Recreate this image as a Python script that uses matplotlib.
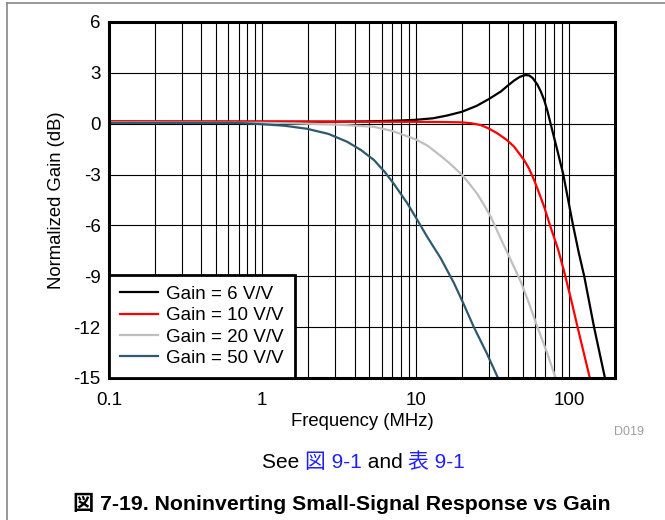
import matplotlib
matplotlib.use("Agg")
import matplotlib.pyplot as plt
from matplotlib.lines import Line2D
from matplotlib.offsetbox import TextArea, HPacker, AnchoredOffsetbox
from matplotlib.ticker import LogLocator, NullFormatter, FixedLocator, FixedFormatter

plt.rcParams['font.family'] = ['Liberation Sans', 'Noto Sans CJK JP', 'DejaVu Sans']

# ---------------- data ----------------
f_g6 = [0.1, 0.3, 1, 3, 5, 8, 10, 13, 16, 20, 25, 30, 36, 40, 44, 48, 52, 55, 58, 62.4,
        65.6, 69, 72.5, 76, 84, 92, 99, 106, 116, 126, 146, 172]
db_g6 = [0.12, 0.12, 0.12, 0.12, 0.14, 0.19, 0.23, 0.32, 0.48, 0.7, 1.05, 1.45, 1.9, 2.25,
         2.55, 2.77, 2.87, 2.85, 2.7, 2.3, 1.9, 1.4, 0.75, 0.0, -1.55, -3.0, -4.5, -5.9,
         -7.6, -9.0, -12.0, -15.0]

f_g10 = [0.1, 0.3, 1, 3, 10, 15, 20, 23, 26.6, 30, 34.2, 39.4, 44, 51, 55, 59.3, 64, 69,
         76, 85, 93, 103, 114, 125, 137]
db_g10 = [0.15, 0.14, 0.13, 0.12, 0.11, 0.1, 0.08, 0.03, -0.08, -0.28, -0.57, -0.96, -1.36,
          -2.14, -2.65, -3.32, -4.1, -4.9, -6.1, -7.4, -8.7, -10.3, -12.0, -13.5, -15.0]

f_g20 = [0.1, 0.3, 1, 1.65, 3, 3.8, 5.35, 5.9, 7, 8, 10, 12, 14.6, 17, 20, 22.5, 25.3, 28,
         31, 36, 41.8, 48.5, 55, 62.4, 72, 82]
db_g20 = [0.08, 0.07, 0.05, 0.02, -0.05, -0.1, -0.18, -0.27, -0.42, -0.6, -0.92, -1.3,
          -1.9, -2.4, -3.0, -3.55, -4.15, -4.8, -5.5, -6.8, -8.04, -9.3, -10.6, -12.0,
          -13.5, -15.0]

f_g50 = [0.1, 0.3, 0.72, 1.0, 1.4, 1.96, 2.7, 3.57, 4.4, 5.35, 6.3, 7.22, 8.84, 10.3, 11.9,
         14.6, 17.8, 20.5, 24, 29, 34.5]
db_g50 = [0.05, 0.05, 0.04, -0.03, -0.12, -0.3, -0.6, -1.06, -1.55, -2.14, -2.85, -3.55,
          -4.7, -5.7, -6.67, -7.94, -9.4, -10.6, -12.0, -13.5, -15.0]

series_labels = ["Gain = 6 V/V", "Gain = 10 V/V", "Gain = 20 V/V", "Gain = 50 V/V"]
series_colors = ["#000000", "#ff0000", "#bfbfbf", "#2e5a70"]

x_ticks = [0.1, 1, 10, 100]
x_ticklabels = ["0.1", "1", "10", "100"]
y_ticks = [-15, -12, -9, -6, -3, 0, 3, 6]
y_ticklabels = ["-15", "-12", "-9", "-6", "-3", "0", "3", "6"]

# ---------------- figure ----------------
W, H = 665, 520
fig = plt.figure(figsize=(W / 100, H / 100), dpi=100)
ax = fig.add_axes([109 / W, 1 - 378 / H, (615 - 109) / W, (378 - 22) / H])

series = [(f_g6, db_g6), (f_g10, db_g10), (f_g20, db_g20), (f_g50, db_g50)]
handles = []
for (fx, dy), lab, col in zip(series, series_labels, series_colors):
    h, = ax.plot(fx, dy, color=col, lw=1.6, label=lab, zorder=3, solid_joinstyle='round')
    handles.append(h)

ax.set_xscale('log')
ax.set_xlim(0.1, 200)
ax.set_ylim(-15, 6)
ax.xaxis.set_major_locator(FixedLocator(x_ticks))
ax.xaxis.set_major_formatter(FixedFormatter(x_ticklabels))
ax.xaxis.set_minor_locator(LogLocator(base=10, subs=[2, 3, 4, 5, 6, 7, 8, 9], numticks=20))
ax.xaxis.set_minor_formatter(NullFormatter())
ax.yaxis.set_major_locator(FixedLocator(y_ticks))
ax.yaxis.set_major_formatter(FixedFormatter(y_ticklabels))

ax.grid(True, which='major', color='black', lw=0.8)
ax.grid(True, which='minor', axis='x', color='black', lw=0.8)
ax.tick_params(which='both', length=0, labelsize=13.5)
ax.tick_params(axis='x', pad=10)
ax.tick_params(axis='y', pad=6)
for s in ax.spines.values():
    s.set_linewidth(2.2)
    s.set_zorder(5)

ax.set_xlabel("Frequency (MHz)", fontsize=13.3, labelpad=3)
ax.set_ylabel("Normalized Gain (dB)", fontsize=13.3, labelpad=6)

leg = ax.legend(handles=handles, loc='lower left', bbox_to_anchor=(0, 0), borderaxespad=0,
                fontsize=13.5, frameon=True, fancybox=False, handlelength=2.0,
                handletextpad=0.45, labelspacing=0.22, borderpad=0.6)
leg.get_frame().set_edgecolor('black')
leg.get_frame().set_linewidth(2.0)
leg.get_frame().set_alpha(1)
leg.set_zorder(6)

# D019
fig.text(629 / W, 1 - 432 / H, "D019", fontsize=9, color='#a0a0a0', ha='center', va='center')

# See 図 9-1 and 表 9-1
parts = [("See ", 'black'), ("図 9-1", '#1f1fff'), (" and ", 'black'), ("表 9-1", '#1f1fff')]
areas = [TextArea(t, textprops=dict(color=c, fontsize=15)) for t, c in parts]
box = HPacker(children=areas, align='baseline', pad=0, sep=0)
anch = AnchoredOffsetbox(loc='center', child=box, frameon=False, pad=0, borderpad=0,
                         bbox_to_anchor=(363.5 / W, 1 - 462 / H), bbox_transform=fig.transFigure)
fig.add_artist(anch)

# caption
fig.text(341.5 / W, 1 - 503 / H, "図 7-19. Noninverting Small-Signal Response vs Gain",
         fontsize=15.3, fontweight='bold', ha='center', va='center')

# outer gray frame (top and left edges)
fig.add_artist(Line2D([7 / W, 1.0], [1 - 2.5 / H, 1 - 2.5 / H], transform=fig.transFigure,
                      color='#888888', lw=1.2))
fig.add_artist(Line2D([7 / W, 7 / W], [0, 1 - 2.5 / H], transform=fig.transFigure,
                      color='#888888', lw=1.2))

fig.savefig("out.png", dpi=100)
